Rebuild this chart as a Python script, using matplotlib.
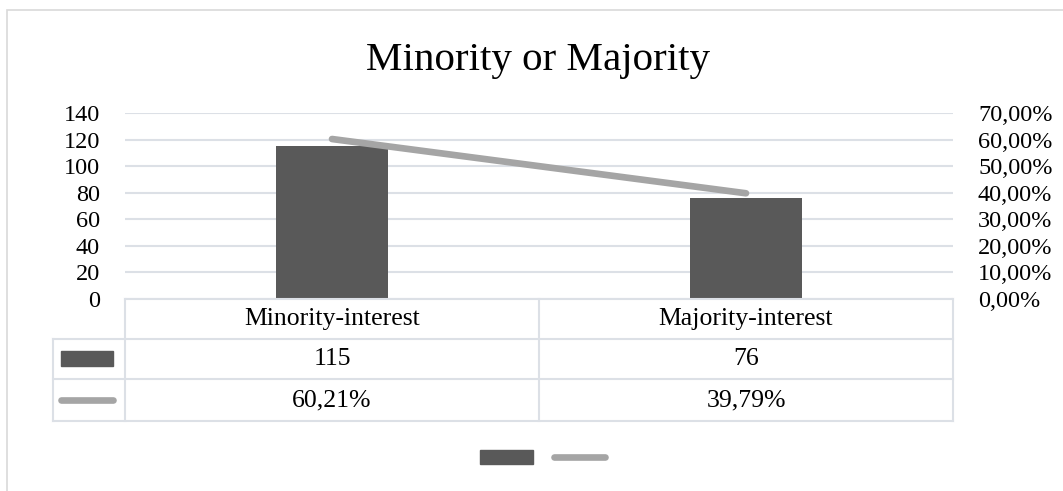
import matplotlib.pyplot as plt
from matplotlib.lines import Line2D
from matplotlib.patches import Rectangle

categories = ['Minority-interest', 'Majority-interest']
counts = [115, 76]
shares = [60.21, 39.79]   # percent
left_ticks = [0, 20, 40, 60, 80, 100, 120, 140]
right_ticks = [0, 10, 20, 30, 40, 50, 60, 70]

W, H = 1063, 491
bar_col = '#595959'
line_col = '#A5A5A5'
grid_col = '#DCE0E6'
font = 'Liberation Serif'

fig = plt.figure(figsize=(W / 100, H / 100), dpi=100)
fig.patch.set_facecolor('white')


def fx(px):
    return px / W


def fy(py):
    return 1 - py / H


# outer chart border (runs past right/bottom edge)
fig.add_artist(Rectangle((fx(7), fy(600)), fx(1200), fy(10) - fy(600),
                         transform=fig.transFigure, fill=False,
                         edgecolor='#D9D9D9', lw=1.2))

fig.text(fx(538), fy(70), 'Minority or Majority', ha='center', va='baseline',
         fontsize=29.5, family=font, color='black')

# plot area
x0, x1, ytop, ybot = 125, 953, 113, 299
ax = fig.add_axes([fx(x0), fy(ybot), fx(x1) - fx(x0), fy(ytop) - fy(ybot)])
xs = list(range(len(categories)))
ax.bar(xs, counts, width=0.272, color=bar_col, zorder=2)
ax.set_xlim(-0.5, len(categories) - 0.5)
ax.set_ylim(0, 140)
ax.set_yticks(left_ticks)
ax.set_yticklabels([str(t) for t in left_ticks], family=font, fontsize=17.5)
ax.set_xticks([])
ax.tick_params(axis='y', length=0, pad=18)
ax.grid(axis='y', color=grid_col, lw=1.5, zorder=0)
for s in ax.spines.values():
    s.set_visible(False)

ax2 = ax.twinx()
ax2.plot(xs, [v / 100 for v in shares], color=line_col, lw=4.8,
         solid_capstyle='round', zorder=3)
ax2.set_ylim(0, 0.7)
ax2.set_yticks([t / 100 for t in right_ticks])
ax2.set_yticklabels(['%d,00%%' % t for t in right_ticks], family=font,
                    fontsize=17.5, ha='left')
ax2.tick_params(axis='y', length=0, pad=18)
for s in ax2.spines.values():
    s.set_visible(False)

# data table under the plot
rows_y = [299, 339, 379, 421]
col_x = [53, 125, 539, 953]
tc = dict(transform=fig.transFigure, color=grid_col, lw=1.5)
fig.add_artist(Line2D([fx(125), fx(953)], [fy(299), fy(299)], **tc))
for y in rows_y[1:]:
    fig.add_artist(Line2D([fx(53), fx(953)], [fy(y), fy(y)], **tc))
fig.add_artist(Line2D([fx(53), fx(53)], [fy(339), fy(421)], **tc))
for x in col_x[1:]:
    fig.add_artist(Line2D([fx(x), fx(x)], [fy(299), fy(421)], **tc))

row_text = [categories,
            [str(c) for c in counts],
            [('%.2f%%' % p).replace('.', ',') for p in shares]]
for r, texts in enumerate(row_text):
    yc = (rows_y[r] + rows_y[r + 1]) / 2
    for c, t in enumerate(texts):
        xc = (col_x[c + 1] + col_x[c + 2]) / 2
        fig.text(fx(xc), fy(yc), t, ha='center', va='center',
                 fontsize=18.5, family=font, color='black')

# legend keys inside the table
fig.add_artist(Rectangle((fx(61), fy(366)), fx(52), fy(351) - fy(366),
                         transform=fig.transFigure, color=bar_col))
fig.add_artist(Line2D([fx(61), fx(113)], [fy(400), fy(400)],
                      transform=fig.transFigure, color=line_col, lw=4.8,
                      solid_capstyle='round'))

# bottom legend
fig.add_artist(Rectangle((fx(480), fy(464)), fx(53), fy(450) - fy(464),
                         transform=fig.transFigure, color=bar_col))
fig.add_artist(Line2D([fx(554), fx(605)], [fy(457), fy(457)],
                      transform=fig.transFigure, color=line_col, lw=4.8,
                      solid_capstyle='round'))

fig.savefig('out.png', dpi=100)
